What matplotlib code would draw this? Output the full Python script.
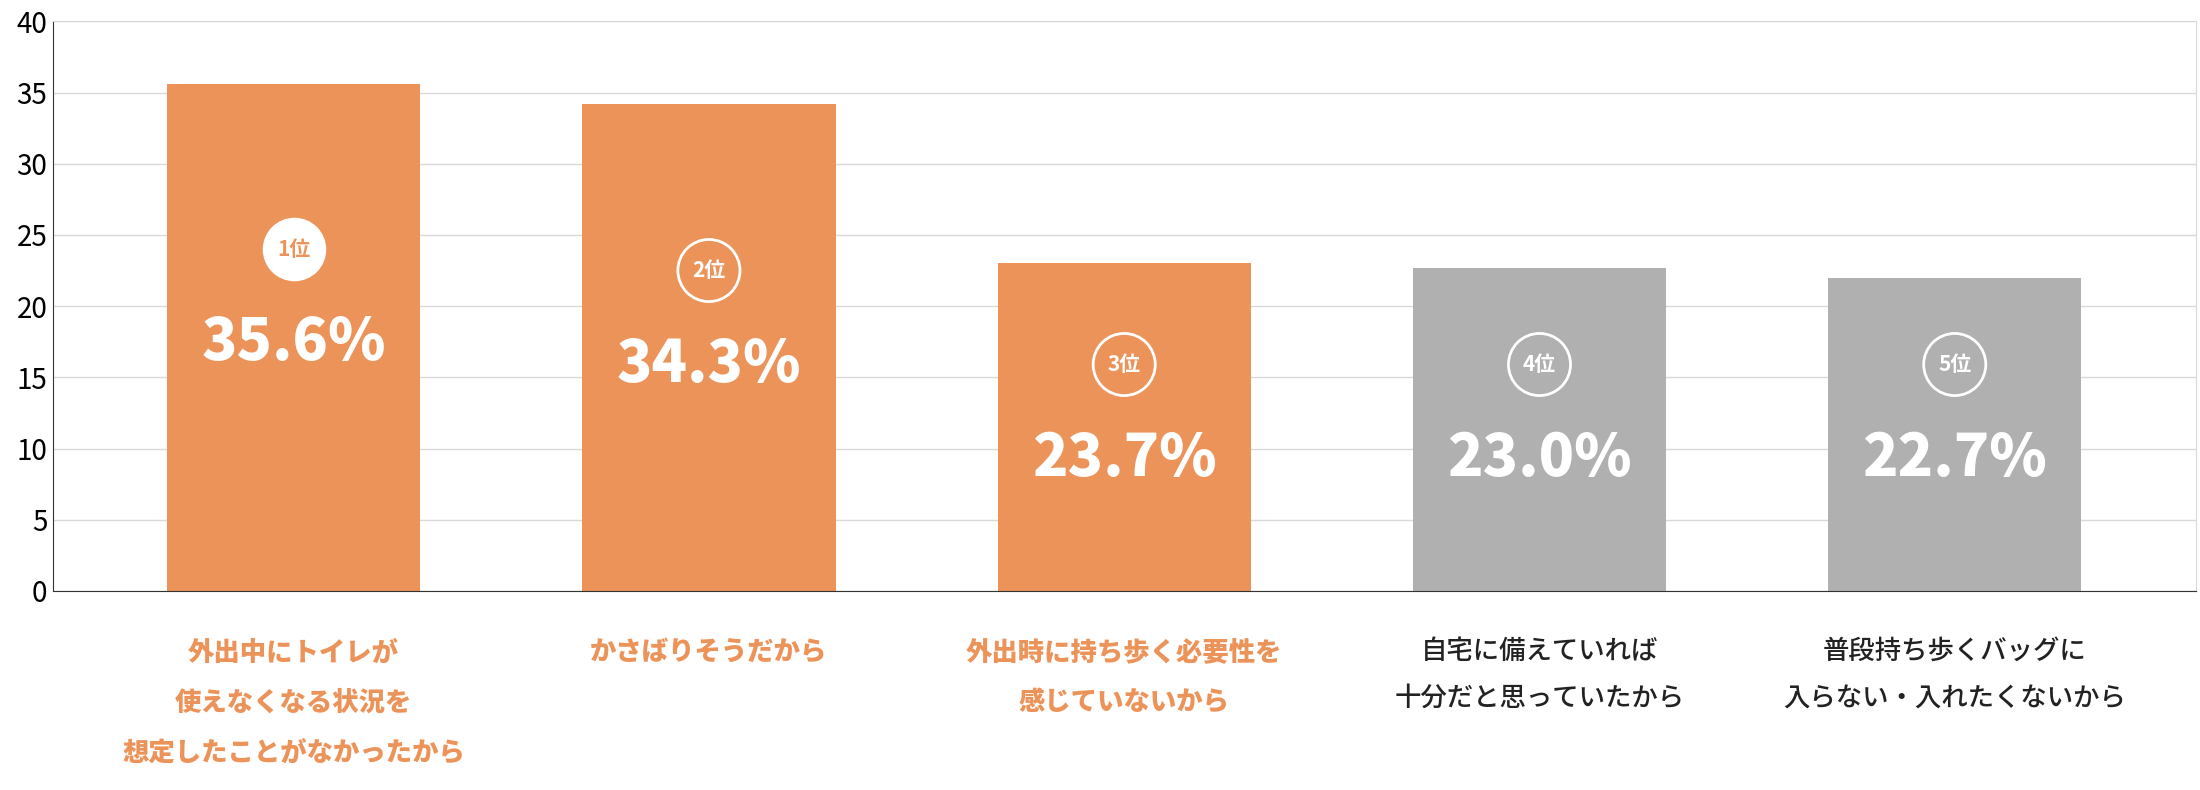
import matplotlib
matplotlib.use("Agg")
import matplotlib.pyplot as plt

plt.rcParams['font.family'] = ['Noto Sans CJK JP', 'DejaVu Sans']

categories = ['外出中にトイレが\n使えなくなる状況を\n想定したことがなかったから',
              'かさばりそうだから',
              '外出時に持ち歩く必要性を\n感じていないから',
              '自宅に備えていれば\n十分だと思っていたから',
              '普段持ち歩くバッグに\n入らない・入れたくないから']
bar_heights = [35.6, 34.2, 23.0, 22.7, 22.0]
pct_labels = ['35.6%', '34.3%', '23.7%', '23.0%', '22.7%']
ranks = ['1位', '2位', '3位', '4位', '5位']
highlight = [True, True, True, False, False]

orange = '#EC9359'
gray = '#B0B0B0'

fig = plt.figure(figsize=(22, 7.9), dpi=100)
ax = fig.add_axes([0.024, 0.252, 0.974, 0.721])

x = range(len(categories))
colors = [orange if h else gray for h in highlight]
ax.bar(x, bar_heights, width=0.61, color=colors, zorder=2)

ax.set_xlim(-0.58, 4.58)
ax.set_ylim(0, 40)
ax.set_yticks(range(0, 41, 5))
ax.tick_params(axis='y', labelsize=20, length=0, pad=4)
ax.set_xticks([])
ax.grid(axis='y', color='#D9D9D9', linewidth=1, zorder=0)
for s in ['top', 'right']:
    ax.spines[s].set_color('#D9D9D9')
ax.spines['left'].set_color('#333333')
ax.spines['bottom'].set_color('#333333')

pct_y = [17.4, 15.9, 9.3, 9.3, 9.3]
for i in x:
    ax.text(i, pct_y[i], pct_labels[i], ha='center', va='center', color='white',
            fontsize=42, fontweight='black', zorder=4)
    by = pct_y[i] + 6.6
    if i == 0:
        ax.scatter([i], [by], s=2000, color='white', zorder=3)
    else:
        ax.scatter([i], [by], s=2000, facecolor='none', edgecolor='white',
                   linewidth=2, zorder=3)
    ax.text(i, by, ranks[i], ha='center', va='center', fontsize=15, fontweight='bold',
            color=orange if i == 0 else 'white', zorder=4)
    ax.text(i, -3.3, categories[i], ha='center', va='top', fontsize=19,
            fontweight='heavy' if highlight[i] else 'medium',
            color=orange if highlight[i] else '#222222', linespacing=1.95)

fig.savefig('out.png', dpi=100)
